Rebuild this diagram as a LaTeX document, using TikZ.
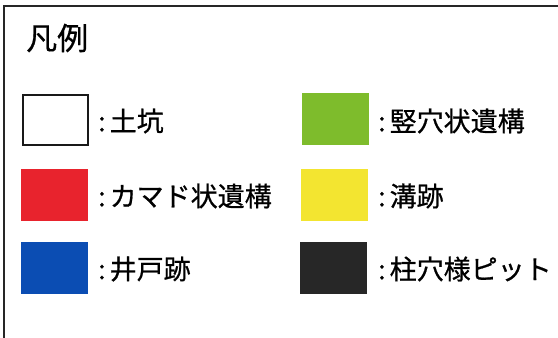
\documentclass[tikz,border=0pt]{standalone}
\usepackage{fontspec}
\newfontfamily\jp[FakeBold=0.7]{Noto Sans CJK JP}
\definecolor{legred}{HTML}{E8232D}
\definecolor{leggreen}{HTML}{7EBC2C}
\definecolor{legyellow}{HTML}{F3E530}
\definecolor{legblue}{HTML}{0B4DB3}
\definecolor{legblack}{HTML}{272727}
\newcommand{\lcolon}{:\hspace{4pt}}
\begin{document}
\begin{tikzpicture}[x=1pt,y=-1pt,
  swatch/.style={draw=none, minimum width=67pt, minimum height=52pt, inner sep=0pt, anchor=north west},
  leglabel/.style={anchor=west, inner sep=0pt, font=\jp\fontsize{27}{27}\selectfont},
  frame/.style={line width=2pt, draw=black!85}]
\useasboundingbox (0,0) rectangle (558,338);
\draw[frame] (560,6) -- (4,6) -- (4,340);
\node[anchor=west, inner sep=0pt, font=\jp\fontsize{31}{31}\selectfont] (title) at (26,38) {凡例};
% left column
\node[swatch, draw=black!90, line width=1.5pt, fill=white, minimum width=65pt, minimum height=50pt] (s1) at (22,94) {};
\node[swatch, fill=legred] (s2) at (21,169) {};
\node[swatch, fill=legblue] (s3) at (21,242) {};
\node[leglabel] (l1) at (98,121) {\lcolon 土坑};
\node[leglabel] (l2) at (98,196) {\lcolon カマド状遺構};
\node[leglabel] (l3) at (98,269) {\lcolon 井戸跡};
% right column
\node[swatch, fill=leggreen] (s4) at (302,93) {};
\node[swatch, fill=legyellow] (s5) at (301,169) {};
\node[swatch, fill=legblack] (s6) at (300,242) {};
\node[leglabel] (l4) at (378,121) {\lcolon 竪穴状遺構};
\node[leglabel] (l5) at (378,196) {\lcolon 溝跡};
\node[leglabel] (l6) at (378,269) {\lcolon 柱穴様ピット};
\end{tikzpicture}
\end{document}
